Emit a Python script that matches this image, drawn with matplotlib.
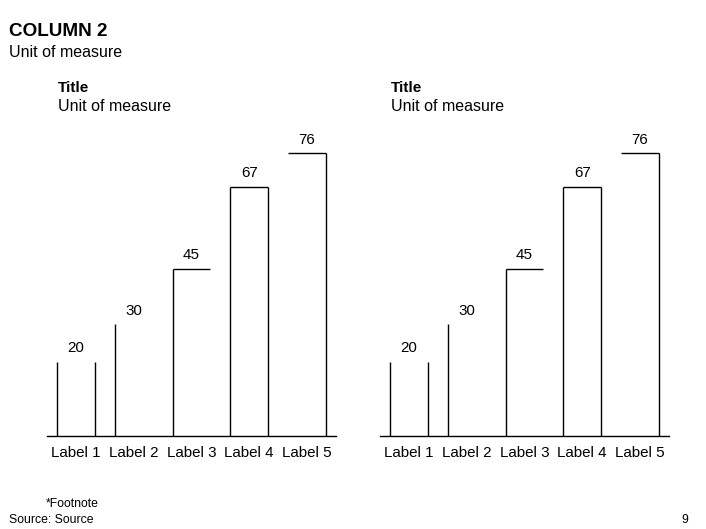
import matplotlib
matplotlib.use("Agg")
import matplotlib.pyplot as plt

plt.rcParams["font.family"] = ["Liberation Sans", "DejaVu Sans"]

W, H = 706, 529

categories = ["Label 1", "Label 2", "Label 3", "Label 4", "Label 5"]
left_values = [20, 30, 45, 67, 76]
right_values = [20, 30, 45, 67, 76]

page_title = "COLUMN 2"
page_unit = "Unit of measure"
chart_title = "Title"
chart_unit = "Unit of measure"
footnote = "*Footnote"
source = "Source: Source"
page_number = "9"

# which outline segments of each bar are visible in the original
edge_left = [True, True, True, True, False]
edge_right = [True, False, False, True, True]
edge_top = [False, False, True, True, True]

BAR_W = 38 / 58


def fig_xy(x, y):
    return x / W, 1 - y / H


def draw_chart(fig, x0, values):
    # axes box in pixels: x0..x0+289, baseline at y=436, ymax 80 -> 3.72 px/unit
    top = 436 - 80 * 3.72
    ax = fig.add_axes([x0 / W, 1 - 436 / H, 289 / W, (436 - top) / H])
    xs = list(range(len(values)))
    ax.bar(xs, values, width=BAR_W, color="white", edgecolor="none")
    for i, v in enumerate(values):
        l, r = i - BAR_W / 2, i + BAR_W / 2
        if edge_left[i]:
            ax.vlines(l, 0, v, color="black", lw=1.0)
        if edge_right[i]:
            ax.vlines(r, 0, v, color="black", lw=1.0)
        if edge_top[i]:
            ax.hlines(v, l, r, color="black", lw=1.0)
        ax.annotate(str(v), xy=(i, v), xytext=(0, 6.8), textcoords="offset points",
                    ha="center", va="baseline", fontsize=10.9)
        ax.annotate(categories[i], xy=(i, 0), xytext=(0, -15.3), textcoords="offset points",
                    ha="center", va="baseline", fontsize=10.9, annotation_clip=False)
    ax.set_xlim(-0.5, 4.5)
    ax.set_ylim(0, 80)
    for s in ["top", "right", "left"]:
        ax.spines[s].set_visible(False)
    ax.spines["bottom"].set_linewidth(1.0)
    ax.set_xticks([])
    ax.set_yticks([])
    ax.patch.set_alpha(0)

    tx = x0 + 11
    fig.text(*fig_xy(tx, 92.5), chart_title, fontsize=11.0, fontweight="bold", va="baseline")
    fig.text(*fig_xy(tx, 111), chart_unit, fontsize=11.5, va="baseline")
    return ax


def main():
    fig = plt.figure(figsize=(W / 100, H / 100), dpi=100)
    fig.text(*fig_xy(9, 36), page_title, fontsize=13.6, fontweight="bold", va="baseline")
    fig.text(*fig_xy(9, 56.7), page_unit, fontsize=11.5, va="baseline")

    draw_chart(fig, 47, left_values)
    draw_chart(fig, 380, right_values)

    fig.text(*fig_xy(46, 506.7), footnote, fontsize=8.8, va="baseline")
    fig.text(*fig_xy(9, 523), source, fontsize=8.8, va="baseline")
    fig.text(*fig_xy(681, 523), page_number, fontsize=8.8, va="baseline")

    fig.savefig("out.png", dpi=100)


if __name__ == "__main__":
    main()
